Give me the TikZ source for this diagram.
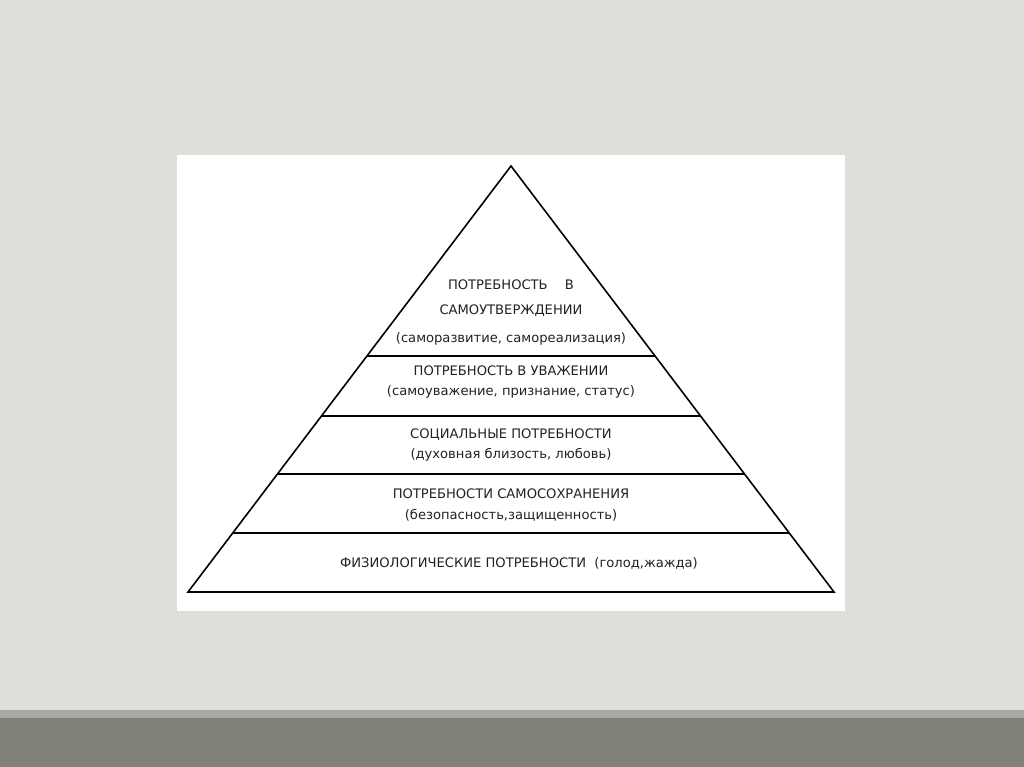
\documentclass[tikz,border=0pt]{standalone}
\usepackage{fontspec}
\setmainfont{DejaVu Sans}
\usetikzlibrary{calc}
\definecolor{bgc}{HTML}{DFDFDA}
\definecolor{bandlight}{HTML}{A8A8A4}
\definecolor{banddark}{HTML}{80827A}
\definecolor{txt}{HTML}{222222}
\tikzset{
  lbl/.style={font=\fontsize{13.1}{14}\selectfont, text=txt, inner sep=0pt, anchor=center},
  edge/.style={draw=black, line width=1.6pt}
}
\begin{document}
\begin{tikzpicture}[x=1pt,y=-1pt]
\useasboundingbox (0,0) rectangle (1024,767);
\fill[bgc] (0,0) rectangle (1024,767);
\fill[bandlight] (0,710) rectangle (1024,718);
\fill[banddark] (0,718) rectangle (1024,767);
\fill[white] (177,155) rectangle (845,611);
% pyramid
\coordinate (apex) at (511,166);
\coordinate (bl) at (188,592);
\coordinate (br) at (834,592);
\draw[edge, line join=miter] (apex) -- (bl) -- (br) -- cycle;
\coordinate (l1) at ($(apex)!{(356-166)/426}!(bl)$);
\coordinate (r1) at ($(apex)!{(356-166)/426}!(br)$);
\coordinate (l2) at ($(apex)!{(416-166)/426}!(bl)$);
\coordinate (r2) at ($(apex)!{(416-166)/426}!(br)$);
\coordinate (l3) at ($(apex)!{(474-166)/426}!(bl)$);
\coordinate (r3) at ($(apex)!{(474-166)/426}!(br)$);
\coordinate (l4) at ($(apex)!{(533-166)/426}!(bl)$);
\coordinate (r4) at ($(apex)!{(533-166)/426}!(br)$);
\draw[edge] (l1) -- (r1);
\draw[edge] (l2) -- (r2);
\draw[edge] (l3) -- (r3);
\draw[edge] (l4) -- (r4);
% labels
\node[lbl] (t1a) at (511,285) {ПОТРЕБНОСТЬ\quad\ В};
\node[lbl] (t1b) at (511,311) {САМОУТВЕРЖДЕНИИ};
\node[lbl] (t1c) at (511,339) {(саморазвитие, самореализация)};
\node[lbl] (t2a) at (511,371) {ПОТРЕБНОСТЬ В УВАЖЕНИИ};
\node[lbl] (t2b) at (511,392) {(самоуважение, признание, статус)};
\node[lbl] (t3a) at (511,435) {СОЦИАЛЬНЫЕ ПОТРЕБНОСТИ};
\node[lbl] (t3b) at (511,455) {(духовная близость, любовь)};
\node[lbl] (t4a) at (511,494) {ПОТРЕБНОСТИ САМОСОХРАНЕНИЯ};
\node[lbl] (t4b) at (511,515) {(безопасность,защищенность)};
\node[lbl] (t5) at (519,563) {ФИЗИОЛОГИЧЕСКИЕ ПОТРЕБНОСТИ\ \ (голод,жажда)};
\end{tikzpicture}
\end{document}
